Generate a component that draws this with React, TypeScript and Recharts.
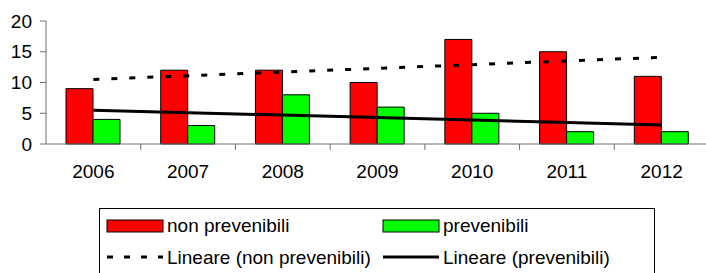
// External imports
import { ComposedChart, Bar, Line, XAxis, YAxis } from 'recharts';

// Data
const years = ['2006', '2007', '2008', '2009', '2010', '2011', '2012'];
const nonPrevenibili = [9, 12, 12, 10, 17, 15, 11];
const prevenibili = [4, 3, 8, 6, 5, 2, 2];
const trendNonPrevenibili = [10.5, 11.1, 11.7, 12.3, 12.9, 13.5, 14.1];
const trendPrevenibili = [5.5, 5.1, 4.7, 4.3, 3.9, 3.5, 3.1];
const yTicks = [0, 5, 10, 15, 20];

const chartData = years.map((year, i) => ({
    year,
    nonPrev: nonPrevenibili[i],
    prev: prevenibili[i],
    trendNonPrev: trendNonPrevenibili[i],
    trendPrev: trendPrevenibili[i],
}));

const FONT = '"Liberation Sans", Arial, sans-serif';
const FONT_SIZE = 19;
const AXIS_COLOR = '#707070';
const PLOT_LEFT = 46;
const PLOT_RIGHT = 709;
const AXIS_Y = 144;
const BAND = (PLOT_RIGHT - PLOT_LEFT) / years.length;

type TickProps = {
    x?: number;
    payload?: { value: string };
};

const YearTick = ({ x = 0, payload }: TickProps) => (
    <g>
        <line
            x1={x + BAND / 2}
            x2={x + BAND / 2}
            y1={AXIS_Y}
            y2={AXIS_Y + 6}
            stroke={AXIS_COLOR}
        />
        <text
            x={x}
            y={AXIS_Y + 34}
            textAnchor="middle"
            fontSize={FONT_SIZE}
            fontFamily={FONT}
            fill="#000"
        >
            {payload?.value}
        </text>
    </g>
);

const LegendBox = () => (
    <div
        style={{
            position: 'absolute',
            left: 99,
            top: 208,
            width: 554,
            height: 80,
            border: '1px solid #000',
        }}
    >
        <svg width={554} height={80} style={{ position: 'absolute', left: 0, top: 0 }}>
            <rect x={7} y={11} width={56} height={12} fill="#FF0000" stroke="#000" />
            <text x={67} y={23} fontSize={FONT_SIZE} fontFamily={FONT}>
                non prevenibili
            </text>
            <rect x={283} y={11} width={56} height={12} fill="#00FF00" stroke="#000" />
            <text x={343} y={23} fontSize={FONT_SIZE} fontFamily={FONT}>
                prevenibili
            </text>
            <line
                x1={7}
                x2={63}
                y1={48}
                y2={48}
                stroke="#000"
                strokeWidth={3}
                strokeDasharray="6 11"
            />
            <text x={67} y={55} fontSize={FONT_SIZE} fontFamily={FONT}>
                Lineare (non prevenibili)
            </text>
            <line x1={283} x2={339} y1={48} y2={48} stroke="#000" strokeWidth={3} />
            <text x={343} y={55} fontSize={FONT_SIZE} fontFamily={FONT}>
                Lineare (prevenibili)
            </text>
        </svg>
    </div>
);

const App = () => (
    <div
        style={{
            position: 'absolute',
            left: 0,
            top: 0,
            width: 706,
            height: 273,
            overflow: 'hidden',
            background: '#fff',
        }}
    >
        <ComposedChart
            width={712}
            height={190}
            data={chartData}
            margin={{ top: 21, right: 3, left: 0, bottom: 6 }}
            barGap={0}
        >
            <XAxis
                dataKey="year"
                height={40}
                stroke={AXIS_COLOR}
                tickLine={false}
                tick={<YearTick />}
                interval={0}
            />
            <YAxis
                width={46}
                domain={[0, 20]}
                ticks={yTicks}
                stroke={AXIS_COLOR}
                tickSize={6}
                tickMargin={8}
                tick={{ fill: '#000', fontSize: FONT_SIZE, fontFamily: FONT }}
                interval={0}
            />
            <Bar
                dataKey="nonPrev"
                fill="#FF0000"
                stroke="#000"
                strokeWidth={1}
                barSize={27}
                isAnimationActive={false}
            />
            <Bar
                dataKey="prev"
                fill="#00FF00"
                stroke="#000"
                strokeWidth={1}
                barSize={27}
                isAnimationActive={false}
            />
            <Line
                dataKey="trendNonPrev"
                stroke="#000"
                strokeWidth={3}
                strokeDasharray="6 12"
                dot={false}
                activeDot={false}
                isAnimationActive={false}
            />
            <Line
                dataKey="trendPrev"
                stroke="#000"
                strokeWidth={3}
                dot={false}
                activeDot={false}
                isAnimationActive={false}
            />
        </ComposedChart>
        <LegendBox />
    </div>
);

export default App;
